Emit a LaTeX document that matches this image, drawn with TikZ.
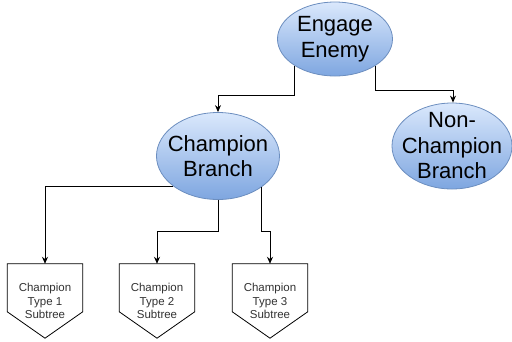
\documentclass[tikz,border=0pt]{standalone}
\usepackage{fontspec}
\setmainfont{Liberation Sans}
\usetikzlibrary{arrows.meta,shapes.geometric,calc}
\definecolor{bluetop}{HTML}{DAE8FC}
\definecolor{bluebot}{HTML}{7EA6E0}
\definecolor{blueedge}{HTML}{6C8EBF}
\definecolor{subtext}{HTML}{333333}
\tikzset{
  branch/.style  = {shape=ellipse, draw=blueedge, line width=0.8pt,
                    inner sep=0pt, top color=bluetop, bottom color=bluebot},
  branchtext/.style = {inner sep=0pt, align=center,
                    font=\fontsize{22}{25.5}\selectfont},
  subtree/.style = {shape=rectangle, inner sep=0pt, align=center,
                    minimum width=75pt, minimum height=74pt,
                    text=subtext, font=\fontsize{11.5}{13.3}\selectfont},
  link/.style    = {draw, line width=1pt, -{Stealth[length=7pt,width=6pt]}}
}
\begin{document}
\begin{tikzpicture}
  [
    x = 1pt,
    y = 1pt
  ]
  \useasboundingbox (0,0) rectangle (512,-341);
  % ellipses
  \node [branch, minimum width=115pt, minimum height=74pt] (engage) at (335,-39) {};
  \node [branchtext] at (engage) {Engage\\Enemy};
  \node [branch, minimum width=123pt, minimum height=87pt] (champ) at (218,-156) {};
  \node [branchtext] at (champ) {Champion\\Branch};
  \node [branch, minimum width=120pt, minimum height=86pt] (nonchamp) at (452,-146) {};
  \node [branchtext] at (nonchamp) {Non-\\Champion\\Branch};
  % subtrees
  \foreach \i/\x in {1/45, 2/157, 3/270} {
    \node [subtree] (type\i) at (\x,-301) {};
    \draw [line width=0.8pt, fill=white]
      (type\i.north west) -- (type\i.north east) -- ++(0,-48)
      -- (type\i.south) -- ($(type\i.north west)+(0,-48)$) -- cycle;
    \node [subtree] at (type\i) {Champion\\Type \i\\Subtree};
  }
  % connectors
  \draw [link] (engage.214) -- (engage.214 |- 0,-95) -| (champ.north);
  \draw [link] (engage.326.6) -- (engage.326.6 |- 0,-90) -| ([xshift=1pt]nonchamp.north);
  \draw [link] (champ.214) -| (type1.north);
  \draw [link] (champ.south) -- (champ.south |- 0,-231) -| (type2.north);
  \draw [link] (champ.324.1) -- (champ.324.1 |- 0,-231) -| (type3.north);
\end{tikzpicture}
\end{document}
